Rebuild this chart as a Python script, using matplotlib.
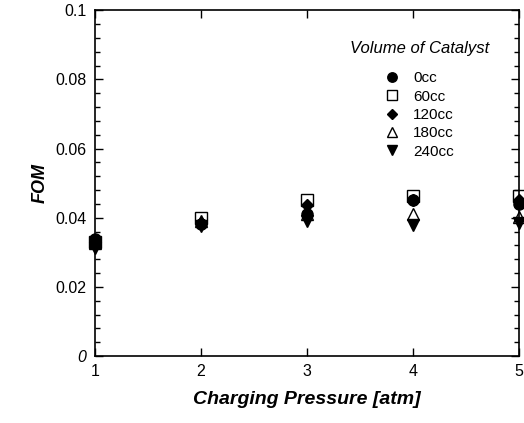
import numpy as np
import matplotlib.pyplot as plt
from matplotlib.ticker import MultipleLocator

plt.rcParams['font.family'] = ['Liberation Sans', 'DejaVu Sans']

# Donnees
pression = [1, 2, 3, 4, 5]
fom_0cc = [0.0340, 0.0382, 0.0410, 0.0450, 0.0440]
fom_60cc = [0.0330, 0.0400, 0.0452, 0.0463, 0.0462]
fom_120cc = [0.0320, 0.0385, 0.0436, 0.0452, 0.0450]
fom_180cc = [0.0328, 0.0392, 0.0412, 0.0410, 0.0403]
fom_240cc = [0.0312, 0.0375, 0.0390, 0.0378, 0.0385]

series = [
    ('0cc', fom_0cc, 'o', 'black'),
    ('60cc', fom_60cc, 's', 'none'),
    ('120cc', fom_120cc, 'D', 'black'),
    ('180cc', fom_180cc, '^', 'none'),
    ('240cc', fom_240cc, 'v', 'black'),
]

fig = plt.figure(figsize=(5.24, 4.23), dpi=100)
ax = fig.add_axes([0.181, 0.158, 0.809, 0.818])

for nom, vals, m, fc in series:
    ms = 6.5 if m == 'D' else 8
    ax.plot(pression, vals, linestyle='none', marker=m, markersize=ms,
            markerfacecolor=fc, markeredgecolor='black', markeredgewidth=1.0,
            label=nom, clip_on=False, zorder=3)

ax.set_xlim(1, 5)
ax.set_ylim(0, 0.1)
ax.xaxis.set_major_locator(MultipleLocator(1))
ax.yaxis.set_minor_locator(MultipleLocator(0.004))
ax.set_yticks([0, 0.02, 0.04, 0.06, 0.08, 0.1])
ax.set_yticklabels(['0', '0.02', '0.04', '0.06', '0.08', '0.1'])
ax.get_yticklabels()[0].set_fontstyle('italic')

ax.tick_params(which='both', direction='in', top=True, right=True, labelsize=11.5, width=1)
ax.tick_params(which='major', length=6, pad=6)
ax.tick_params(which='minor', length=3.5)
for s in ax.spines.values():
    s.set_linewidth(1.2)

ax.set_xlabel('Charging Pressure [atm]', fontsize=14, fontweight='bold', fontstyle='italic', labelpad=8)
ax.set_ylabel('FOM', fontsize=13, fontweight='bold', fontstyle='italic', labelpad=5)

# titre de la legende en texte separe
ax.text(0.767, 0.89, 'Volume of Catalyst', transform=ax.transAxes, ha='center', va='center',
        fontsize=12, fontstyle='italic')
leg = ax.legend(frameon=False, loc='upper left', bbox_to_anchor=(0.682, 0.823),
                fontsize=11, handletextpad=0.9, labelspacing=0.28, borderpad=0,
                borderaxespad=0, markerscale=0.85, handlelength=1.0)

fig.savefig('out.png', dpi=100)
